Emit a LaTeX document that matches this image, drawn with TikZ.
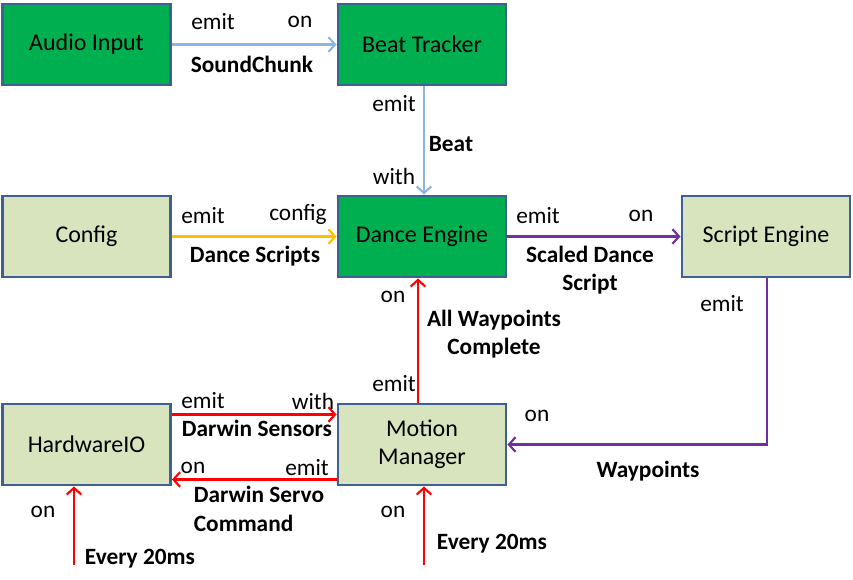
\documentclass[tikz,border=0pt]{standalone}
\usepackage{fontspec}
\setmainfont{Carlito}
\usetikzlibrary{arrows.meta}
\definecolor{dkgreen}{HTML}{00B050}
\definecolor{ltgreen}{HTML}{D7E4BD}
\definecolor{bord}{HTML}{3E6092}
\definecolor{ltblue}{HTML}{8EB4E3}
\definecolor{orng}{HTML}{FFC000}
\definecolor{purp}{HTML}{7030A0}
\definecolor{rd}{HTML}{FF0000}
\tikzset{
  box/.style={draw=bord, line width=2.2pt, minimum width=126pt, minimum height=60.75pt, inner sep=0pt, font=\fontsize{18}{21}\selectfont, align=center},
  dk/.style={box, fill=dkgreen},
  lt/.style={box, fill=ltgreen},
  conn/.style={line width=2.2pt, -{Straight Barb[length=5pt,width=11pt,line width=1.6pt]}},
  lab/.style={font=\fontsize{17.5}{21.5}\selectfont, inner sep=0pt},
  blab/.style={font=\fontsize{17.5}{21.5}\selectfont\bfseries, inner sep=0pt, align=center},
}
\begin{document}
\begin{tikzpicture}[x=0.75pt,y=-0.75pt]
\useasboundingbox (0,0) rectangle (853,580);
\node[dk] (audio) at (86.5,44.5) {Audio Input};
\node[dk] (beat) at (422,44.5) {Beat Tracker};
\node[lt] (config) at (86.5,236.5) {Config};
\node[dk] (dance) at (422,236.5) {Dance Engine};
\node[lt] (script) at (766,236.5) {Script Engine};
\node[lt] (hw) at (86.5,444.5) {HardwareIO};
\node[lt] (motion) at (422,444.5) {Motion\\Manager};
\coordinate (hwsrc) at (74,565);
\coordinate (mmsrc) at (424,565);

\draw[conn, ltblue] (audio.east) -- (beat.west);
\draw[conn, ltblue] ([xshift=1.5pt]beat.south) -- ([xshift=1.5pt]dance.north);
\draw[conn, orng] (config.east) -- (dance.west);
\draw[conn, purp] (dance.east) -- (script.west);
\draw[conn, purp] ([xshift=0.75pt]script.south) |- (motion.east);
\draw[conn, rd] ([xshift=-3pt]motion.north) -- ([xshift=-3pt]dance.south);
\draw[conn, rd] ([yshift=22.5pt]hw.east) -- ([yshift=22.5pt]motion.west);
\draw[conn, rd] ([yshift=-26.25pt]motion.west) -- ([yshift=-26.25pt]hw.east);
\draw[conn, rd] (hwsrc) -- (hwsrc |- hw.south);
\draw[conn, rd] (mmsrc) -- (mmsrc |- motion.south);

\node[lab] at (213,22) {emit};
\node[lab] at (300,22) {on};
\node[blab] at (252,64) {SoundChunk};
\node[lab] at (394,104) {emit};
\node[blab] at (451,144) {Beat};
\node[lab] at (394,176) {with};
\node[lab] at (203,216) {emit};
\node[lab] at (298,214) {config};
\node[blab] at (255,256) {Dance Scripts};
\node[lab] at (538,216) {emit};
\node[lab] at (641,216) {on};
\node[blab] at (590,270) {Scaled Dance\\Script};
\node[lab] at (722,304) {emit};
\node[lab] at (537,416) {on};
\node[blab] at (648,471) {Waypoints};
\node[lab] at (393,297) {on};
\node[blab] at (494,334) {All Waypoints\\Complete};
\node[lab] at (394,384) {emit};
\node[lab] at (203,401) {emit};
\node[lab] at (313,401) {with};
\node[blab] at (257,428) {Darwin Sensors};
\node[lab] at (193,468) {on};
\node[lab] at (307,468) {emit};
\node[blab, align=left] at (259,509) {Darwin Servo\\Command};
\node[lab] at (43,512) {on};
\node[blab] at (140,559) {Every 20ms};
\node[lab] at (393,512) {on};
\node[blab] at (492,544) {Every 20ms};
\end{tikzpicture}
\end{document}
